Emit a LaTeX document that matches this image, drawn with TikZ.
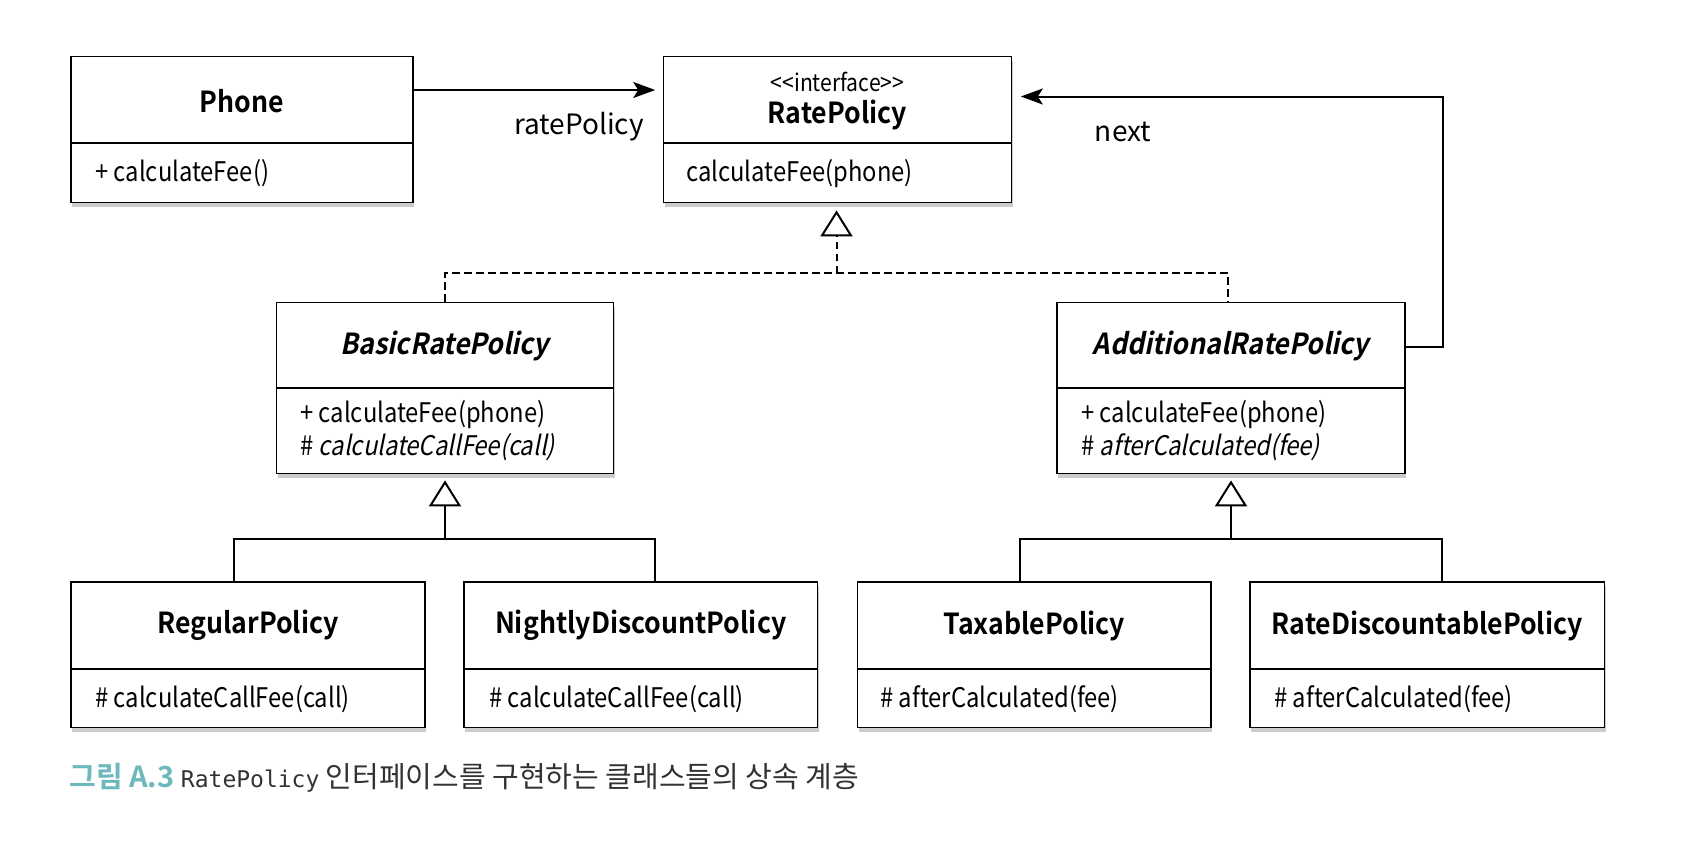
\documentclass[tikz,border=0pt]{standalone}
\usepackage{fontspec}
\setmainfont{Noto Sans CJK KR}
\newfontfamily\bfont[FakeStretch=0.92]{Noto Sans CJK KR Bold}
\newfontfamily\bifont[FakeSlant=0.2,FakeStretch=0.92]{Noto Sans CJK KR Bold}
\newfontfamily\mfont[FakeStretch=0.88]{Noto Sans CJK KR}
\newfontfamily\mifont[FakeSlant=0.2,FakeStretch=0.88]{Noto Sans CJK KR}
\newfontfamily\capbold{Noto Sans CJK KR Bold}
\newfontfamily\codefont{DejaVu Sans Mono}
\usetikzlibrary{arrows.meta,shadows}
\definecolor{capteal}{RGB}{108,184,186}
\definecolor{captext}{RGB}{50,50,50}
\begin{document}
\begin{tikzpicture}[x=0.5pt,y=-0.5pt,
  classbox/.style={draw=black, fill=white, line width=0.9pt, inner sep=0pt,
    drop shadow={fill=black, opacity=0.2, shadow xshift=0.6pt, shadow yshift=-2.2pt}},
  divider/.style={line width=0.9pt},
  ttl/.style={font=\fontsize{14.5}{16}\bfont, inner sep=0pt},
  ittl/.style={font=\fontsize{14.5}{16}\bifont, inner sep=0pt},
  mth/.style={font=\fontsize{13.5}{16}\mfont, inner sep=0pt, anchor=west},
  lbl/.style={font=\fontsize{14}{16}\selectfont, inner sep=0pt},
  conn/.style={line width=1pt},
  assoc/.style={conn, -{Stealth[length=11pt,width=8pt,inset=2.5pt]}},
  realize/.style={conn, dash pattern=on 3.6pt off 2.4pt},
  inherit/.style={-{Triangle[open,length=13pt,width=16pt,line width=1pt]}}
]
\useasboundingbox (0,0) rectangle (1700,842);

% class boxes
\node[classbox, minimum width=342pt/2, minimum height=146pt/2] (phone) at (242,129.5) {};
\node[classbox, minimum width=348pt/2, minimum height=146pt/2] (rate) at (837.5,129.5) {};
\node[classbox, minimum width=337pt/2, minimum height=171pt/2] (basic) at (445,388) {};
\node[classbox, minimum width=348pt/2, minimum height=171pt/2] (addl) at (1231,388) {};
\node[classbox, minimum width=353.5pt/2, minimum height=145.5pt/2] (reg) at (248,654.75) {};
\node[classbox, minimum width=353.5pt/2, minimum height=145.5pt/2] (night) at (640.75,654.75) {};
\node[classbox, minimum width=353.5pt/2, minimum height=145.5pt/2] (tax) at (1034.3,654.75) {};
\node[classbox, minimum width=354.5pt/2, minimum height=145.5pt/2] (rdisc) at (1427.3,654.75) {};

% dividers
\draw[divider] (phone.west |- 0,143) -- (phone.east |- 0,143);
\draw[divider] (rate.west |- 0,143) -- (rate.east |- 0,143);
\draw[divider] (basic.west |- 0,388) -- (basic.east |- 0,388);
\draw[divider] (addl.west |- 0,388) -- (addl.east |- 0,388);
\foreach \b in {reg,night,tax,rdisc}
  \draw[divider] (\b.west |- 0,669) -- (\b.east |- 0,669);

% texts
\node[ttl] (tphone) at (242,101) {Phone};
\node[mth] (mphone) at (95,173.5) {+ calculateFee()};

\node[lbl, font=\fontsize{12}{13}\mfont] (stereo) at (837.5,82) {{<}{<}interface{>}{>}};
\node[ttl] (trate) at (837.5,115) {RatePolicy};
\node[mth] (mrate) at (686,173.5) {calculateFee(phone)};

\node[ittl] (tbasic) at (445,346) {BasicRatePolicy};
\node[mth] (mbasic1) at (300,415) {+ calculateFee(phone)};
\node[mth] (mbasic2) at (300,447) {\# {\mifont calculateCallFee(call)}};

\node[ittl] (taddl) at (1231,346) {AdditionalRatePolicy};
\node[mth] (maddl1) at (1081,415) {+ calculateFee(phone)};
\node[mth] (maddl2) at (1081,447) {\# {\mifont afterCalculated(fee)}};

\node[ttl] (treg) at (248,625.6) {RegularPolicy};
\node[mth] (mreg) at (95,699) {\# calculateCallFee(call)};
\node[ttl] (tnight) at (640.75,625.6) {NightlyDiscountPolicy};
\node[mth] (mnight) at (489,699) {\# calculateCallFee(call)};
\node[ttl] (ttax) at (1034.3,625.6) {TaxablePolicy};
\node[mth] (mtax) at (880,699) {\# afterCalculated(fee)};
\node[ttl] (trdisc) at (1427.3,625.6) {RateDiscountablePolicy};
\node[mth] (mrdisc) at (1274,699) {\# afterCalculated(fee)};

% association Phone -> RatePolicy
\draw[assoc, shorten >=3.7pt] (phone.east |- 0,90) -- (rate.west |- 0,90);
\node[lbl] (lrate) at (579,127) {ratePolicy};

% association next
\coordinate (nextcorner) at (1443,96.5);
\draw[assoc, shorten >=4.2pt] (addl.east |- 0,347) -| (nextcorner) -- (rate.east |- 0,96.5);
\node[lbl] (lnext) at (1123,132) {next};

% realization
\coordinate (j1) at (836.5,273);
\draw[realize] (basic.north) |- (j1) -| ([xshift=-1.5pt]addl.north);
\draw[realize, inherit, shorten >=3.5pt] (j1) -- (j1 |- rate.south);

% inheritance Basic
\coordinate (j2) at (445,539);
\draw[conn] ([xshift=-7pt]reg.north) |- (j2) -| ([xshift=7pt]night.north);
\draw[conn, inherit, shorten >=3pt] (j2) -- (j2 |- basic.south);

% inheritance Additional
\coordinate (j3) at (1231,539);
\draw[conn] ([xshift=-7.1pt]tax.north) |- (j3) -| ([xshift=7.35pt]rdisc.north);
\draw[conn, inherit, shorten >=3pt] (j3) -- (j3 |- addl.south);

% caption
\node[anchor=base west, inner sep=0pt, font=\fontsize{14.5}{16}\selectfont] (caption) at (69,787)
  {{\capbold\color{capteal}그림 A.3} {\color{captext}{\codefont\fontsize{11.5}{14}\selectfont RatePolicy} 인터페이스를 구현하는 클래스들의 상속 계층}};
\end{tikzpicture}
\end{document}
